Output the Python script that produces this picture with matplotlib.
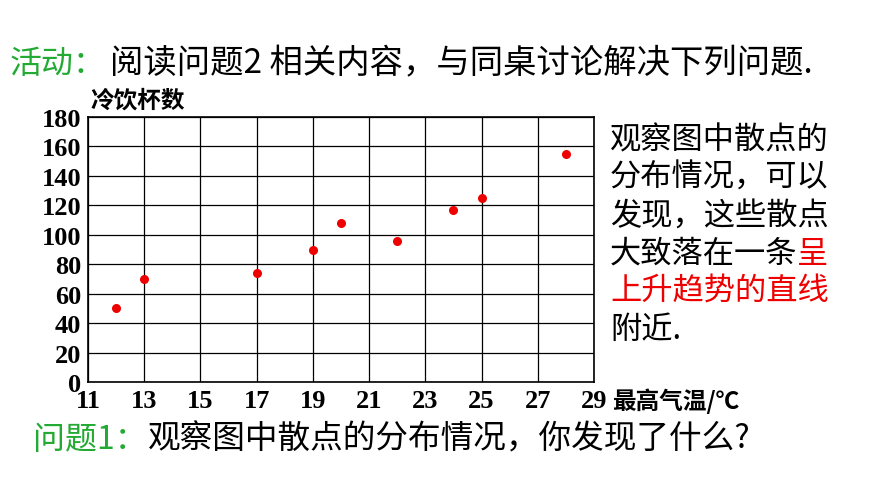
import matplotlib.pyplot as plt

plt.rcParams['font.family'] = ['Noto Sans CJK SC', 'DejaVu Sans']

temps = [12, 13, 17, 19, 20, 22, 24, 25, 28]
cups = [50, 70, 74, 90, 108, 96, 117, 125, 155]
xticks = [11, 13, 15, 17, 19, 21, 23, 25, 27, 29]
yticks = list(range(0, 181, 20))

W, H = 870, 489
fig = plt.figure(figsize=(8.7, 4.89), dpi=100)
ax = fig.add_axes([88 / W, 1 - 383 / H, (594 - 88) / W, (383 - 118) / H])

ax.scatter(temps, cups, s=30, color='#ee0000', zorder=3)
ax.set_xlim(11, 29)
ax.set_ylim(0, 180)
ax.set_xticks(xticks)
ax.set_yticks(yticks)
ax.grid(True, color='black', linewidth=0.9)
for s in ax.spines.values():
    s.set_linewidth(1.2)
ax.tick_params(length=0, pad=5)
for lab in ax.get_xticklabels() + ax.get_yticklabels():
    lab.set_fontfamily('Liberation Serif')
    lab.set_fontweight('bold')
    lab.set_fontsize(19)


def txt(x, y, s, color='black', size=22, **kw):
    fig.text(x / W, 1 - y / H, s, color=color, fontsize=size, va='center', ha='left', **kw)


green = '#22aa33'
txt(10, 64, '活动：', green, 23)
txt(110, 64, '阅读问题2 相关内容，与同桌讨论解决下列问题.', size=24)
txt(90, 101, '冷饮杯数', size=17, fontweight='bold')
txt(612, 401, '最高气温/℃', size=17, fontweight='bold')

lines = ['观察图中散点的', '分布情况，可以', '发现，这些散点']
for i, l in enumerate(lines):
    txt(610, 140 + 38 * i, l, size=22.5)
txt(610, 254, '大致落在一条', size=22.5)
txt(610 + 6 * 31.2, 254, '呈', '#ee0000', size=22.5)
txt(610, 292, '上升趋势的直线', '#ee0000', size=22.5)
txt(610, 330, '附近.', size=22.5)

txt(33, 440, '问题1：', green, 23)
txt(148, 440, '观察图中散点的分布情况，你发现了什么?', size=23.5)

fig.savefig('out.png', dpi=100)
